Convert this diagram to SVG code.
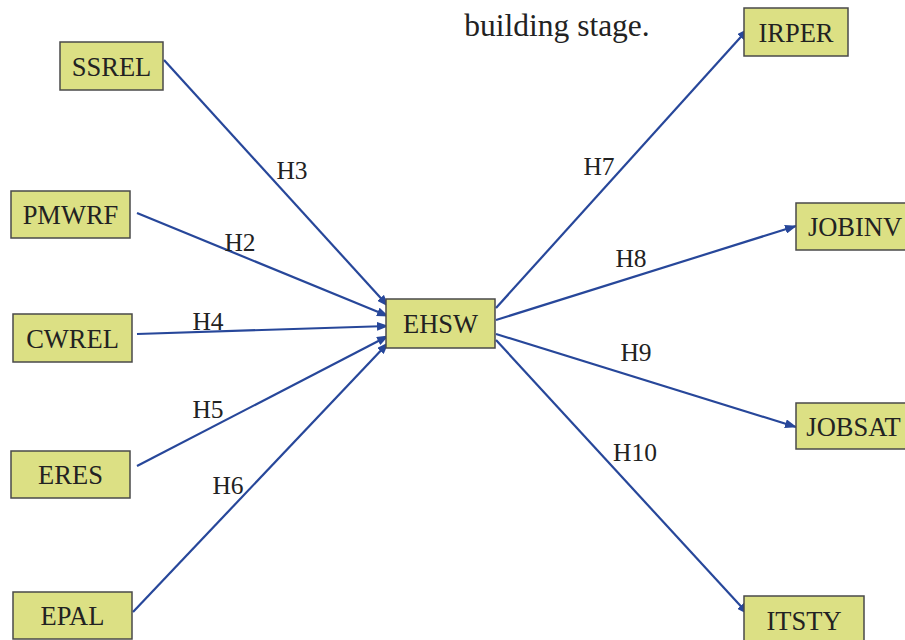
<svg xmlns="http://www.w3.org/2000/svg" width="905" height="640" viewBox="0 0 905 640">
<style>
.box{fill:#dce084;stroke:#4a4a4a;stroke-width:1.5}
.t{font-family:"Liberation Serif","Times New Roman","DejaVu Serif",serif;font-size:26.5px;fill:#222;text-anchor:middle}
.lbl{font-family:"Liberation Serif","Times New Roman","DejaVu Serif",serif;font-size:25.5px;fill:#222;text-anchor:middle}
.hd{font-family:"Liberation Serif","Times New Roman","DejaVu Serif",serif;font-size:31.5px;fill:#222;text-anchor:middle}
.c{stroke:#27479a;stroke-width:2.2;fill:none;marker-end:url(#ah)}
</style>
<defs>
<marker id="ah" markerWidth="12" markerHeight="9" refX="11" refY="4.5" orient="auto" markerUnits="userSpaceOnUse">
<path d="M0,0 L12,4.5 L0,9 Z" fill="#27479a"/>
</marker>
</defs>
<rect width="905" height="640" fill="#fff"/>
<text class="hd" x="557" y="36">building stage.</text>
<g id="connectors">
<line class="c" x1="164" y1="60" x2="388" y2="306"/>
<line class="c" x1="137" y1="213" x2="388" y2="316"/>
<line class="c" x1="137" y1="334" x2="388" y2="326"/>
<line class="c" x1="137" y1="466" x2="388" y2="336"/>
<line class="c" x1="133" y1="612" x2="388" y2="343"/>
<line class="c" x1="496" y1="308" x2="748" y2="29"/>
<line class="c" x1="496" y1="320" x2="796" y2="226"/>
<line class="c" x1="496" y1="334" x2="796" y2="427"/>
<line class="c" x1="496" y1="340" x2="748" y2="614"/>
<text class="lbl" x="292" y="179">H3</text>
<text class="lbl" x="240" y="251">H2</text>
<text class="lbl" x="208" y="330">H4</text>
<text class="lbl" x="208" y="418">H5</text>
<text class="lbl" x="228" y="494">H6</text>
<text class="lbl" x="599" y="175">H7</text>
<text class="lbl" x="631" y="267">H8</text>
<text class="lbl" x="636" y="361">H9</text>
<text class="lbl" x="635" y="461">H10</text>
</g>
<g id="SSREL"><rect class="box" x="60" y="42" width="103" height="48"/><text class="t" x="111.5" y="75.5">SSREL</text></g>
<g id="PMWRF"><rect class="box" x="11" y="191" width="119" height="47"/><text class="t" x="70.5" y="223.5">PMWRF</text></g>
<g id="CWREL"><rect class="box" x="13" y="314" width="119" height="48"/><text class="t" x="72.5" y="347.5">CWREL</text></g>
<g id="ERES"><rect class="box" x="11" y="451" width="119" height="47"/><text class="t" x="70.5" y="483.5">ERES</text></g>
<g id="EPAL"><rect class="box" x="13" y="592" width="119" height="47"/><text class="t" x="72.5" y="624.5">EPAL</text></g>
<g id="EHSW"><rect class="box" x="386" y="299" width="109" height="49"/><text class="t" x="440.5" y="332.5">EHSW</text></g>
<g id="IRPER"><rect class="box" x="744" y="8" width="104" height="48"/><text class="t" x="796" y="41.5">IRPER</text></g>
<g id="JOBINV"><rect class="box" x="796" y="203" width="115" height="47"/><text class="t" x="855" y="235.5">JOBINV</text></g>
<g id="JOBSAT"><rect class="box" x="796" y="403" width="115" height="46"/><text class="t" x="853.5" y="435.5">JOBSAT</text></g>
<g id="ITSTY"><rect class="box" x="744" y="596" width="120" height="50"/><text class="t" x="804" y="629.5">ITSTY</text></g>
</svg>
